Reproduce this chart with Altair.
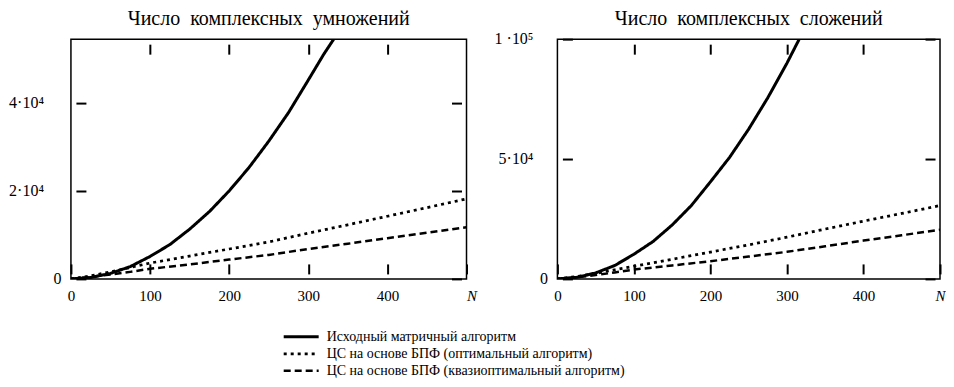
import altair as alt
import pandas as pd

SERIES = ["Исходный матричный алгоритм",
          "ЦС на основе БПФ (оптимальный алгоритм)",
          "ЦС на основе БПФ (квазиоптимальный алгоритм)"]
DASHES = [[1, 0], [3, 4], [7, 4]]
WIDTHS = [3, 2.5, 2.5]

TITLES = ["Число\u00a0\u00a0комплексных\u00a0\u00a0умножений",
          "Число\u00a0\u00a0комплексных\u00a0\u00a0сложений"]

# --- multiplications panel ---
MUL_N_MATRIX = [0, 25, 50, 75, 100, 125, 150, 175, 200, 225, 250, 275, 300, 320, 334]
MUL_MATRIX = [0, 320, 1250, 2800, 5100, 7800, 11300, 15300, 20000, 25300, 31300, 37800, 45200, 51200, 55000]
N_FFT = [0, 25, 50, 75, 100, 150, 200, 250, 300, 350, 400, 450, 500]
MUL_OPT = [0, 700, 1600, 2600, 3600, 5200, 6800, 8400, 10400, 12300, 14250, 16200, 18200]
MUL_QUASI = [0, 450, 1000, 1600, 2300, 3300, 4400, 5450, 6800, 8000, 9250, 10500, 11750]

# --- additions panel ---
ADD_N_MATRIX = [0, 25, 50, 75, 100, 125, 150, 175, 200, 225, 250, 275, 300, 316]
ADD_MATRIX = [0, 640, 2500, 5600, 10300, 15600, 22500, 30600, 40500, 50700, 62500, 75600, 90000, 100000]
ADD_OPT = [0, 1000, 2300, 3800, 5300, 8200, 11200, 14200, 17400, 20800, 24100, 27300, 30600]
ADD_QUASI = [0, 700, 1600, 2700, 3900, 5600, 7400, 9300, 11300, 13600, 16000, 18200, 20500]

X_TICKS = [100, 200, 300, 400]
X_LABEL_VALUES = [0, 100, 200, 300, 400, 500]
X_LABELS = ["0", "100", "200", "300", "400", "N"]
MUL_Y_TICKS = [0, 20000, 40000]
MUL_Y_LABEL_VALUES = [20000, 40000]
MUL_Y_LABELS = ["2·10⁴", "4·10⁴"]
ADD_Y_TICKS = [0, 50000, 100000]
ADD_Y_LABEL_VALUES = [50000, 100000]
ADD_Y_LABELS = ["5·10⁴", "1 ·10⁵"]
MUL_YMAX = 54500
ADD_YMAX = 100000

FONT = "Liberation Serif"
H = 240

dash_scale = alt.Scale(domain=SERIES, range=DASHES)
width_scale = alt.Scale(domain=SERIES, range=WIDTHS)


def label_expr(values, labels):
    expr = "''"
    for v, l in reversed(list(zip(values, labels))):
        expr = f"datum.value == {v} ? '{l}' : ({expr})"
    return expr


TICK = dict(ticks=True, tickSize=10, tickWidth=2, tickColor="black", offset=-15,
            domain=False, grid=False, title=None)


def panel(n_m, v_m, v_o, v_q, ymax, yticks, ylab_vals, ylabs, title, width, n_align, ylab_dx, toff):
    df = pd.DataFrame({
        "N": list(n_m) + list(N_FFT) + list(N_FFT),
        "value": list(v_m) + list(v_o) + list(v_q),
        "series": [SERIES[0]] * len(n_m) + [SERIES[1]] * len(N_FFT) + [SERIES[2]] * len(N_FFT),
    })
    xscale = alt.Scale(domain=[0, 500], nice=False, zero=True)
    yscale = alt.Scale(domain=[0, ymax], nice=False, zero=True)
    x_bottom = alt.X("N:Q", scale=xscale, axis=alt.Axis(
        orient="bottom", values=X_LABEL_VALUES, labelExpr=label_expr(X_LABEL_VALUES, X_LABELS),
        labelFont=FONT, labelFontSize=15, labelColor="black", labelPadding=15,
        labelFlush=False, labelOverlap=False,
        labelAlign={"condition": {"test": "datum.value == 500", "value": n_align}, "value": "center"},
        labelFontStyle={"condition": {"test": "datum.value == 500", "value": "italic"}, "value": "normal"},
        **TICK))
    x_top = alt.X("N:Q", scale=xscale, axis=alt.Axis(
        orient="top", values=X_TICKS, labels=False, minExtent=0, maxExtent=0, **TICK))
    y_left = alt.Y("value:Q", scale=yscale, axis=alt.Axis(
        orient="left", values=yticks, labelExpr="datum.value == 0 ? '0' : ''",
        labelFont=FONT, labelFontSize=16, labelColor="black", labelPadding=15,
        minExtent=64, maxExtent=64, labelFlush=False, labelOverlap=False, **TICK))
    y_right = alt.Y("value:Q", scale=yscale, axis=alt.Axis(
        orient="right", values=yticks, labels=False, minExtent=0, maxExtent=0, **TICK))
    lines = alt.Chart(df).mark_line(color="black", clip=True).encode(
        x=x_bottom, y=y_left,
        strokeDash=alt.StrokeDash("series:N", scale=dash_scale, legend=None),
        strokeWidth=alt.StrokeWidth("series:N", scale=width_scale, legend=None),
    )
    aux = alt.Chart(df).mark_line(opacity=0, clip=True).encode(x=x_top, y=y_right, detail="series:N")
    df_yl = pd.DataFrame({"value": ylab_vals, "label": ylabs})
    ylab = alt.Chart(df_yl).mark_text(align="right", baseline="middle", font=FONT, fontSize=16,
                                      color="black").encode(
        y=alt.Y("value:Q", scale=yscale, axis=None), x=alt.value(ylab_dx), text="label:N")
    return alt.layer(lines, aux, ylab).resolve_axis(x="independent", y="independent").properties(
        width=width, height=H,
        title=alt.TitleParams(title, font=FONT, fontSize=20, fontWeight="normal", color="black",
                              offset=toff, anchor="middle", frame="group"),
    )


left = panel(MUL_N_MATRIX, MUL_MATRIX, MUL_OPT, MUL_QUASI, MUL_YMAX, MUL_Y_TICKS, MUL_Y_LABEL_VALUES,
             MUL_Y_LABELS, TITLES[0], 396, "left", -27, 10)
right = panel(ADD_N_MATRIX, ADD_MATRIX, ADD_OPT, ADD_QUASI, ADD_YMAX, ADD_Y_TICKS, ADD_Y_LABEL_VALUES,
              ADD_Y_LABELS, TITLES[1], 383, "center", -24, 2)

# --- legend, drawn from the series list ---
df_leg = pd.DataFrame({"series": SERIES})
leg_y = alt.Y("series:N", scale=alt.Scale(type="point", domain=SERIES, range=[0, 34], padding=0),
              axis=None)
leg_lines = alt.Chart(df_leg).mark_rule(color="black").encode(
    y=leg_y, x=alt.value(213), x2=alt.value(248),
    strokeDash=alt.StrokeDash("series:N", scale=dash_scale, legend=None),
    strokeWidth=alt.StrokeWidth("series:N", scale=width_scale, legend=None),
)
leg_text = alt.Chart(df_leg).mark_text(align="left", baseline="middle", font=FONT, fontSize=14,
                                       color="black").encode(
    y=leg_y, x=alt.value(256), text="series:N")
legend_chart = alt.layer(leg_lines, leg_text).properties(
    width=560, height=34, view=alt.ViewBackground(stroke="transparent"))

chart = alt.vconcat(alt.hconcat(left, right, spacing=16), legend_chart, spacing=24).properties(
    padding={"left": 0, "top": 0, "right": 0, "bottom": 0}
).configure_view(stroke="black", strokeWidth=1.5)

chart.save("out.html", embed_options={"renderer": "svg", "actions": False})
